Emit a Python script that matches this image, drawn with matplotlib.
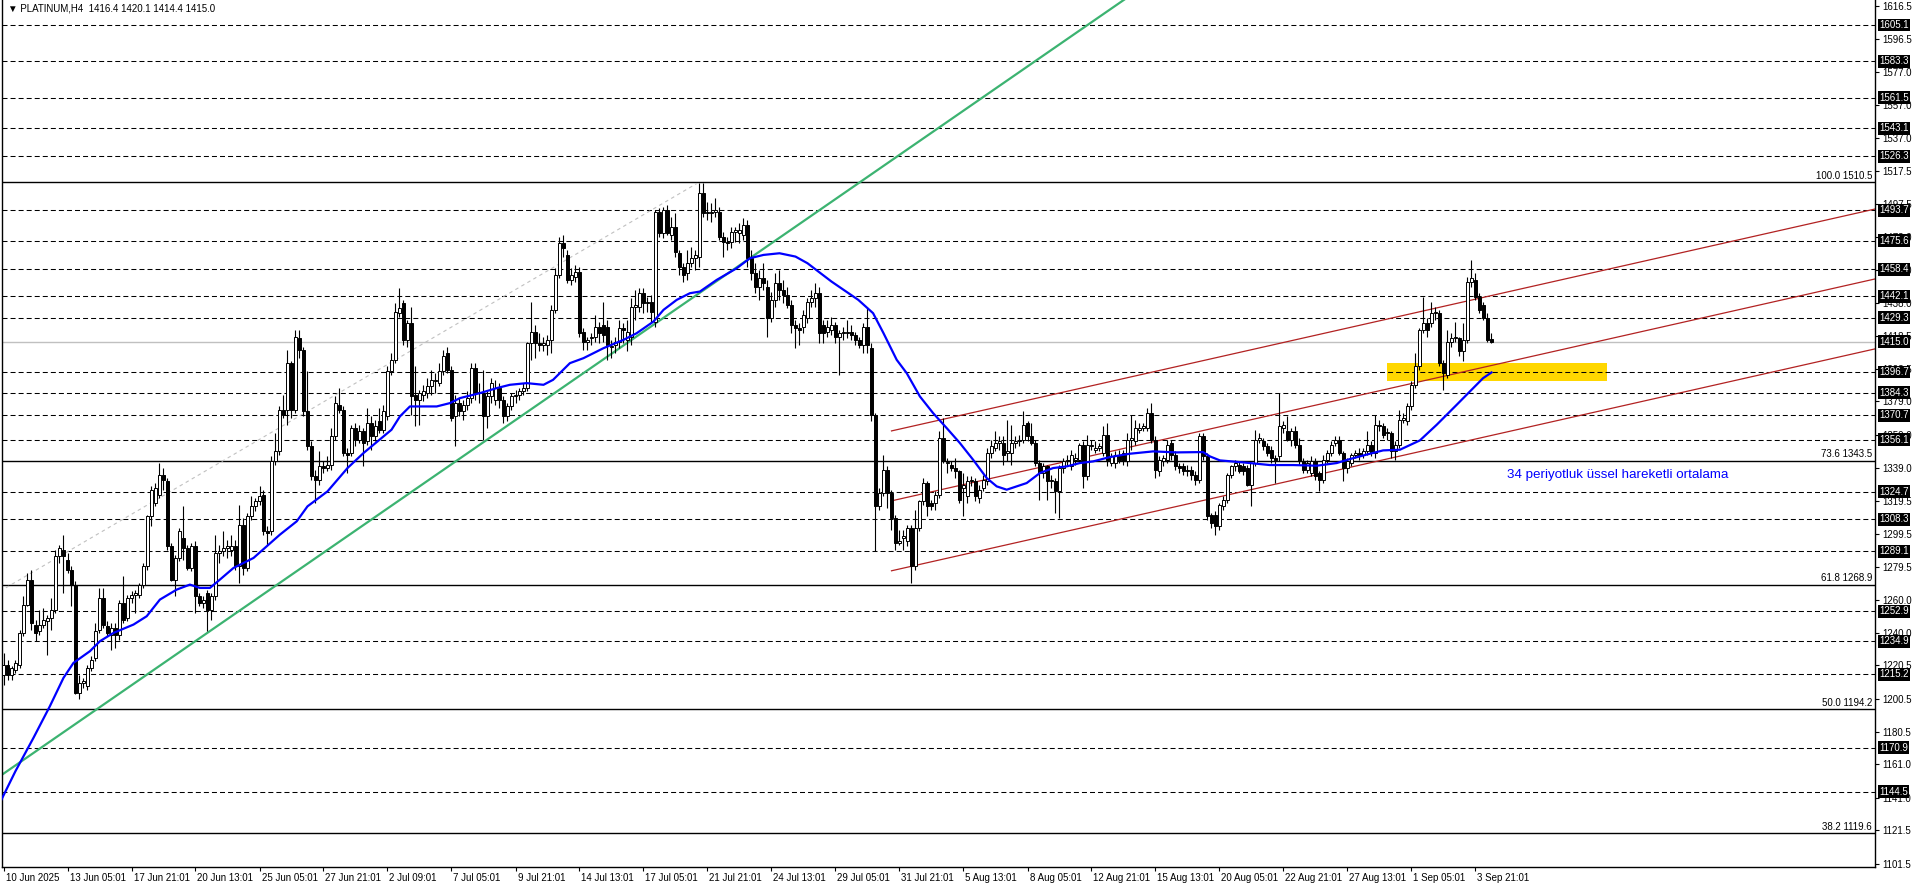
import matplotlib
matplotlib.use("Agg")
import matplotlib.pyplot as plt
import matplotlib.transforms as mtransforms
from matplotlib.patches import Rectangle
import numpy as np

plt.rcParams["font.family"] = ["Liberation Sans", "DejaVu Sans"]
plt.rcParams["lines.scale_dashes"] = False

title_text = "\u25bc PLATINUM,H4  1416.4 1420.1 1414.4 1415.0"

# H4 candles, 10 Jun 2025 -> 4 Sep 2025
opens = [
    1215, 1221, 1215, 1218, 1221, 1240, 1257, 1272, 1245, 1241,
    1245, 1247, 1249, 1254, 1286, 1290, 1284, 1278, 1269, 1204,
    1210, 1208, 1219, 1225, 1242, 1261, 1244, 1239, 1243, 1239,
    1258, 1249, 1261, 1263, 1263, 1269, 1280, 1310, 1318, 1323,
    1335, 1331, 1292, 1272, 1285, 1297, 1291, 1279, 1292, 1262,
    1258, 1264, 1254, 1262, 1288, 1289, 1291, 1290, 1292, 1280,
    1305, 1279, 1310, 1316, 1319, 1323, 1301, 1301, 1343, 1349,
    1374, 1374, 1402, 1374, 1417, 1410, 1373, 1352, 1334, 1332,
    1340, 1339, 1341, 1358, 1377, 1374, 1348, 1348, 1363, 1356,
    1361, 1355, 1366, 1358, 1367, 1362, 1370, 1397, 1404, 1432,
    1438, 1416, 1426, 1383, 1380, 1383, 1384, 1388, 1391, 1390,
    1397, 1408, 1398, 1370, 1378, 1373, 1377, 1381, 1399, 1384,
    1384, 1370, 1382, 1380, 1387, 1380, 1370, 1376, 1382, 1383,
    1385, 1387, 1414, 1421, 1414, 1413, 1413, 1416, 1434, 1455,
    1474, 1467, 1452, 1454, 1457, 1421, 1415, 1417, 1418, 1424,
    1425, 1424, 1412, 1413, 1415, 1423, 1416, 1418, 1436, 1436,
    1444, 1438, 1439, 1427, 1493, 1480, 1494, 1479, 1484, 1468,
    1460, 1456, 1462, 1465, 1466, 1504, 1492, 1492, 1493, 1493,
    1478, 1475, 1475, 1481, 1480, 1479, 1485, 1465, 1456, 1448,
    1453, 1448, 1429, 1440, 1450, 1446, 1443, 1437, 1425, 1423,
    1424, 1429, 1439, 1441, 1444, 1425, 1421, 1422, 1425, 1418,
    1420, 1420, 1421, 1419, 1416, 1413, 1424, 1411, 1371, 1316,
    1324, 1338, 1324, 1309, 1294, 1297, 1295, 1303, 1280, 1303,
    1319, 1330, 1318, 1318, 1323, 1357, 1342, 1341, 1339, 1337,
    1327, 1322, 1331, 1331, 1321, 1327, 1331, 1348, 1351, 1354,
    1354, 1348, 1348, 1354, 1355, 1356, 1366, 1358, 1354, 1342,
    1336, 1340, 1331, 1331, 1325, 1339, 1343, 1340, 1344, 1344,
    1353, 1334, 1352, 1350, 1351, 1348, 1359, 1342, 1342, 1347,
    1348, 1343, 1356, 1355, 1362, 1363, 1363, 1372, 1356, 1337,
    1343, 1344, 1354, 1347, 1340, 1340, 1338, 1338, 1335, 1332,
    1358, 1346, 1311, 1311, 1304, 1316, 1320, 1335, 1340, 1341,
    1340, 1339, 1329, 1342, 1356, 1355, 1352, 1350, 1345, 1346,
    1363, 1361, 1356, 1361, 1353, 1343, 1338, 1336, 1343, 1336,
    1332, 1344, 1348, 1354, 1356, 1348, 1339, 1342, 1347, 1348,
    1347, 1349, 1353, 1348, 1365, 1364, 1360, 1360, 1349, 1353,
    1368, 1367, 1376, 1389, 1400, 1422, 1426, 1426, 1432, 1432,
    1402, 1395, 1415, 1417, 1417, 1409, 1416, 1451, 1452, 1442,
    1437, 1429, 1416.4,
]
highs = [
    1228, 1224, 1220, 1224, 1242, 1262, 1276, 1278, 1248, 1254,
    1255, 1251, 1261, 1290, 1293, 1299, 1288, 1280, 1271, 1215,
    1213, 1221, 1226, 1246, 1267, 1267, 1247, 1246, 1246, 1260,
    1274, 1263, 1265, 1266, 1270, 1282, 1311, 1328, 1330, 1342,
    1339, 1333, 1294, 1287, 1303, 1316, 1293, 1294, 1295, 1264,
    1262, 1266, 1264, 1299, 1293, 1301, 1296, 1299, 1296, 1317,
    1309, 1312, 1322, 1321, 1328, 1326, 1304, 1346, 1360, 1376,
    1383, 1410, 1403, 1422, 1422, 1412, 1397, 1355, 1338, 1349,
    1343, 1346, 1363, 1382, 1387, 1376, 1351, 1365, 1366, 1365,
    1363, 1375, 1370, 1368, 1375, 1377, 1400, 1408, 1438, 1447,
    1440, 1428, 1436, 1400, 1386, 1389, 1393, 1398, 1396, 1402,
    1410, 1412, 1400, 1383, 1381, 1380, 1385, 1402, 1402, 1390,
    1398, 1385, 1393, 1392, 1390, 1382, 1378, 1384, 1386, 1387,
    1390, 1415, 1439, 1425, 1420, 1418, 1419, 1437, 1459, 1478,
    1479, 1470, 1459, 1461, 1460, 1423, 1418, 1420, 1431, 1427,
    1439, 1428, 1416, 1418, 1428, 1426, 1428, 1441, 1446, 1447,
    1447, 1442, 1443, 1494, 1495, 1496, 1497, 1490, 1492, 1470,
    1462, 1470, 1472, 1470, 1510, 1510, 1499, 1498, 1501, 1496,
    1481, 1478, 1484, 1484, 1486, 1489, 1488, 1470, 1462, 1458,
    1462, 1452, 1445, 1456, 1458, 1452, 1448, 1440, 1428, 1426,
    1434, 1441, 1446, 1450, 1448, 1428, 1428, 1430, 1427, 1422,
    1424, 1428, 1425, 1421, 1418, 1426, 1436, 1414, 1372, 1327,
    1347, 1340, 1326, 1311, 1302, 1302, 1305, 1305, 1314, 1320,
    1333, 1331, 1320, 1325, 1361, 1369, 1345, 1343, 1345, 1338,
    1336, 1334, 1334, 1333, 1329, 1335, 1351, 1356, 1361, 1358,
    1358, 1368, 1365, 1358, 1359, 1373, 1367, 1366, 1356, 1344,
    1342, 1341, 1335, 1333, 1341, 1345, 1347, 1350, 1348, 1354,
    1355, 1359, 1356, 1355, 1354, 1364, 1366, 1348, 1349, 1350,
    1350, 1360, 1371, 1368, 1366, 1366, 1375, 1378, 1358, 1346,
    1347, 1356, 1356, 1349, 1342, 1342, 1341, 1340, 1337, 1360,
    1360, 1348, 1312, 1313, 1318, 1322, 1336, 1341, 1344, 1343,
    1342, 1341, 1342, 1362, 1360, 1357, 1354, 1352, 1347, 1384,
    1367, 1370, 1363, 1364, 1357, 1345, 1344, 1346, 1345, 1337,
    1347, 1350, 1355, 1358, 1358, 1349, 1345, 1348, 1350, 1351,
    1351, 1361, 1355, 1371, 1368, 1366, 1363, 1361, 1355, 1374,
    1372, 1378, 1391, 1408, 1423, 1442, 1429, 1439, 1436, 1434,
    1404, 1422, 1420, 1427, 1418, 1426, 1454, 1464, 1456, 1444,
    1439, 1432, 1420.1,
]
lows = [
    1209, 1212, 1212, 1216, 1219, 1238, 1256, 1242, 1235, 1239,
    1243, 1227, 1242, 1252, 1282, 1264, 1276, 1256, 1203, 1200,
    1207, 1206, 1217, 1223, 1240, 1243, 1238, 1230, 1231, 1236,
    1246, 1247, 1258, 1252, 1261, 1267, 1278, 1304, 1316, 1321,
    1326, 1290, 1271, 1262, 1283, 1284, 1278, 1277, 1252, 1256,
    1255, 1241, 1248, 1260, 1282, 1286, 1285, 1286, 1278, 1270,
    1275, 1277, 1308, 1313, 1317, 1299, 1293, 1299, 1341, 1347,
    1369, 1365, 1369, 1372, 1405, 1370, 1350, 1332, 1318, 1329,
    1336, 1337, 1338, 1356, 1372, 1346, 1336, 1346, 1352, 1354,
    1340, 1353, 1350, 1355, 1360, 1360, 1368, 1395, 1402, 1430,
    1413, 1412, 1371, 1364, 1365, 1379, 1381, 1383, 1384, 1388,
    1395, 1396, 1367, 1352, 1370, 1368, 1374, 1378, 1380, 1378,
    1356, 1363, 1378, 1377, 1375, 1366, 1367, 1374, 1378, 1380,
    1383, 1385, 1404, 1405, 1409, 1409, 1407, 1408, 1432, 1453,
    1466, 1450, 1449, 1451, 1418, 1410, 1410, 1413, 1415, 1414,
    1415, 1404, 1405, 1408, 1411, 1414, 1409, 1413, 1428, 1433,
    1432, 1433, 1427, 1424, 1478, 1477, 1479, 1476, 1466, 1455,
    1451, 1452, 1460, 1458, 1460, 1490, 1488, 1487, 1490, 1476,
    1466, 1470, 1471, 1475, 1474, 1476, 1460, 1452, 1444, 1440,
    1446, 1418, 1427, 1436, 1440, 1438, 1435, 1420, 1411, 1413,
    1420, 1426, 1436, 1436, 1414, 1414, 1418, 1419, 1414, 1395,
    1416, 1417, 1416, 1413, 1411, 1408, 1408, 1367, 1289, 1314,
    1322, 1315, 1302, 1290, 1293, 1290, 1292, 1270, 1278, 1301,
    1317, 1310, 1314, 1314, 1321, 1342, 1336, 1337, 1333, 1318,
    1310, 1318, 1328, 1319, 1318, 1325, 1329, 1345, 1349, 1350,
    1341, 1343, 1341, 1351, 1352, 1354, 1355, 1353, 1340, 1320,
    1333, 1320, 1327, 1312, 1309, 1336, 1340, 1338, 1341, 1342,
    1327, 1332, 1350, 1348, 1349, 1346, 1340, 1340, 1339, 1342,
    1341, 1340, 1350, 1353, 1360, 1361, 1361, 1354, 1333, 1334,
    1340, 1342, 1344, 1338, 1336, 1335, 1334, 1332, 1329, 1330,
    1344, 1308, 1303, 1299, 1302, 1314, 1318, 1333, 1337, 1336,
    1335, 1328, 1316, 1340, 1354, 1350, 1346, 1342, 1330, 1343,
    1360, 1355, 1352, 1351, 1341, 1336, 1336, 1334, 1332, 1325,
    1330, 1342, 1346, 1352, 1347, 1331, 1336, 1340, 1345, 1344,
    1345, 1347, 1346, 1345, 1361, 1357, 1356, 1345, 1344, 1351,
    1366, 1365, 1374, 1387, 1398, 1420, 1418, 1424, 1428, 1400,
    1386, 1393, 1412, 1415, 1406, 1403, 1414, 1448, 1440, 1432,
    1428, 1415, 1414.4,
]
closes = [
    1221, 1215, 1219, 1222, 1240, 1257, 1272, 1246, 1240, 1245,
    1248, 1249, 1254, 1286, 1291, 1286, 1278, 1269, 1204, 1210,
    1211, 1219, 1224, 1241, 1261, 1245, 1240, 1243, 1239, 1258,
    1248, 1261, 1263, 1264, 1269, 1280, 1310, 1326, 1327, 1335,
    1332, 1292, 1272, 1285, 1301, 1291, 1279, 1292, 1262, 1258,
    1260, 1254, 1262, 1288, 1289, 1291, 1292, 1292, 1280, 1305,
    1279, 1310, 1316, 1319, 1322, 1301, 1300, 1343, 1349, 1374,
    1371, 1402, 1374, 1418, 1410, 1373, 1352, 1334, 1332, 1340,
    1339, 1341, 1358, 1378, 1374, 1348, 1347, 1363, 1356, 1361,
    1354, 1366, 1358, 1364, 1362, 1373, 1397, 1404, 1433, 1435,
    1416, 1426, 1382, 1380, 1384, 1385, 1388, 1392, 1392, 1397,
    1406, 1398, 1369, 1378, 1373, 1377, 1381, 1399, 1384, 1384,
    1370, 1382, 1390, 1387, 1380, 1370, 1376, 1382, 1383, 1385,
    1387, 1414, 1421, 1414, 1413, 1414, 1416, 1434, 1455, 1474,
    1471, 1452, 1455, 1457, 1420, 1415, 1416, 1418, 1424, 1420,
    1419, 1413, 1412, 1415, 1423, 1422, 1421, 1436, 1437, 1444,
    1438, 1439, 1433, 1493, 1480, 1494, 1480, 1484, 1469, 1460,
    1455, 1462, 1465, 1467, 1504, 1492, 1492.5, 1493, 1494, 1478,
    1475, 1474, 1481, 1482, 1482, 1485, 1465, 1456, 1448, 1453,
    1450, 1429, 1440, 1450, 1446, 1443, 1437, 1425, 1423, 1422,
    1431, 1439, 1441, 1444, 1420, 1420, 1424, 1425, 1418, 1420,
    1421, 1421, 1419, 1416, 1413, 1424, 1413, 1371, 1316, 1324,
    1338, 1324, 1309, 1294, 1295, 1298, 1303, 1280, 1303, 1319,
    1330, 1316, 1316, 1323, 1357, 1343, 1342, 1339, 1337, 1320,
    1329, 1331, 1332, 1322, 1326, 1332, 1348, 1352, 1354, 1355,
    1347, 1349, 1354, 1355, 1356, 1365, 1358, 1354, 1342, 1336,
    1340, 1331, 1332, 1325, 1339, 1343, 1344, 1347, 1345, 1353,
    1334, 1353, 1353, 1351, 1352, 1359, 1344, 1346, 1347, 1344,
    1343, 1356, 1357, 1363, 1363, 1364, 1372, 1356, 1338, 1344,
    1345, 1353, 1347, 1340, 1339, 1337, 1337, 1335, 1332, 1358,
    1346, 1310, 1306, 1304, 1317, 1320, 1335, 1340, 1342, 1337,
    1337, 1329, 1342, 1356, 1357, 1352, 1348, 1345, 1344, 1364,
    1365, 1356, 1361, 1353, 1343, 1338, 1342, 1343, 1334, 1332,
    1344, 1348, 1353, 1356, 1348, 1339, 1343, 1347, 1348, 1346,
    1349, 1353, 1348, 1365, 1364, 1359, 1360, 1349, 1353, 1368,
    1369, 1376, 1389, 1400, 1422, 1426, 1422, 1432, 1433, 1402,
    1396, 1415, 1417, 1418, 1409, 1416, 1451, 1453, 1442, 1434,
    1429, 1416, 1415.0,
]

# 34-period EMA as drawn on the chart: (bar index, price)
ema_x = [-0.9, 3, 7.5, 11.6, 15, 17.5, 21.6, 24.1, 27.5, 32.5,
         35.8, 39.1, 43.3, 46.6, 49.1, 51.6, 54.1, 57.5, 62.5, 65.8,
         69.1, 73.3, 76, 81, 86, 90, 94, 97, 99.1, 101.6,
         105, 108.3, 111.6, 114.1, 119.1, 123.3, 126.6, 130.8, 135, 137.4,
         141.6, 145, 150, 155, 158.3, 162.5, 165, 168.3, 171.6, 174.1,
         178.3, 183.3, 186.6, 190, 194, 198, 201, 207, 213.7, 217.4,
         220, 223.3, 225.8, 229.1, 232.4, 235.8, 239.1, 242.4, 245.8, 248.3,
         250.8, 253.3, 255.8, 259.1, 262.4, 265.8, 269.1, 272.4, 276.6, 281.6,
         287.4, 293.3, 299.9, 301.6, 304.1, 309.9, 316.6, 322.4, 328.3, 333.3,
         336.6, 341.6, 344.9, 349.1, 354.1, 358.3, 363.3, 366.6, 369.9, 372]
ema_y = [1138, 1157, 1177, 1196, 1213, 1222, 1229, 1235, 1240, 1245,
         1250, 1260, 1266, 1269, 1267, 1267, 1272, 1279, 1285, 1292,
         1299, 1307, 1316, 1325, 1339, 1348, 1356, 1362, 1370, 1376,
         1376, 1376, 1378, 1381, 1384, 1387, 1389, 1390, 1389, 1392,
         1402, 1405, 1411, 1416, 1420, 1427, 1434, 1440, 1444, 1445,
         1452, 1459, 1465, 1467, 1468, 1466, 1462, 1451, 1440, 1432,
         1420, 1404, 1396, 1382, 1372, 1363, 1354, 1344, 1333, 1328,
         1326, 1328, 1330, 1336, 1339, 1340, 1342, 1343, 1345.6, 1347.6,
         1349, 1348.4, 1348.6, 1346, 1343.6, 1342.4, 1340.8, 1340.8, 1340.4, 1342,
         1344.4, 1347.6, 1349.6, 1350, 1355.6, 1365, 1377, 1385, 1393, 1396.4]

date_labels = [
    "10 Jun 2025", "13 Jun 05:01", "17 Jun 21:01", "20 Jun 13:01",
    "25 Jun 05:01", "27 Jun 21:01", "2 Jul 09:01", "7 Jul 05:01",
    "9 Jul 21:01", "14 Jul 13:01", "17 Jul 05:01", "21 Jul 21:01",
    "24 Jul 13:01", "29 Jul 05:01", "31 Jul 21:01", "5 Aug 13:01",
    "8 Aug 05:01", "12 Aug 21:01", "15 Aug 13:01", "20 Aug 05:01",
    "22 Aug 21:01", "27 Aug 13:01", "1 Sep 05:01", "3 Sep 21:01",
]
bars_per_label = 16

axis_ticks = [1616.5, 1596.5, 1577.0, 1557.0, 1537.0, 1517.5, 1497.5, 1478.0,
              1458.0, 1438.0, 1418.5, 1398.5, 1379.0, 1359.0, 1339.0, 1319.5,
              1299.5, 1279.5, 1260.0, 1240.0, 1220.5, 1200.5, 1180.5, 1161.0,
              1141.0, 1121.5, 1101.5]
level_prices = [1605.1, 1583.3, 1561.5, 1543.1, 1526.3, 1493.7, 1475.6, 1458.4,
                1442.1, 1429.3, 1396.7, 1384.3, 1370.7, 1356.1, 1324.7, 1308.3,
                1289.1, 1252.9, 1234.9, 1215.2, 1170.9, 1144.5]
last_price = 1415.0
fib_prices = [1510.5, 1343.5, 1268.9, 1194.2, 1119.6]
fib_names = ["100.0", "73.6", "61.8", "50.0", "38.2"]

# trend objects: (bar index, price) end points
green_x, green_y = [-1, 290], [1153.8, 1636.6]
grey_x, grey_y = [-0.9, 173.4], [1265.0, 1510.0]
channel_x = [222.0, 470.0]
channel_tops = [1361.3, 1319.3, 1277.3]
channel_slope = 0.542
zone_x, zone_y = (345.8, 400.8), (1391.0, 1402.0)
ema_note = "34 periyotluk üssel hareketli ortalama"
ema_note_pos = (375.9, 1334.8)

W, H = 1916, 888
fig = plt.figure(figsize=(W / 100, H / 100), dpi=100)
ax = fig.add_axes([2 / W, 21 / H, 1873 / W, 867 / H])
ax.set_xlim(-0.375, 467.875)
ax.set_ylim(1099.4, 1620.1)

o = np.array(opens, float)
h = np.array(highs, float)
l = np.array(lows, float)
c = np.array(closes, float)
idx = np.arange(len(c))

# yellow support zone (behind everything)
ax.add_patch(Rectangle((zone_x[0], zone_y[0]), zone_x[1] - zone_x[0],
                       zone_y[1] - zone_y[0], facecolor="#FFD700",
                       edgecolor="none", zorder=0))

for p in level_prices:
    ax.axhline(p, color="black", lw=0.75, dashes=(3.6, 2.2), zorder=1)
for p in fib_prices:
    ax.axhline(p, color="black", lw=1.0, zorder=1)
ax.axhline(last_price, color="#C0C0C0", lw=1.0, zorder=1)

ax.plot(grey_x, grey_y, color="#C0C0C0", lw=0.8, dashes=(2.5, 2.5), zorder=1)
ax.plot(green_x, green_y, color="#3CB371", lw=1.6, zorder=2)
for top in channel_tops:
    ax.plot(channel_x, [top, top + channel_slope * (channel_x[1] - channel_x[0])],
            color="#B22222", lw=0.9, zorder=2)

# candles
ax.vlines(idx, l, h, color="black", lw=0.8, zorder=3)
up = c >= o
body_lo = np.minimum(o, c)
body_h = np.maximum(np.abs(c - o), 0.4)
ax.bar(idx[up], body_h[up], bottom=body_lo[up], width=0.6, color="white",
       edgecolor="black", lw=0.7, zorder=4)
ax.bar(idx[~up], body_h[~up], bottom=body_lo[~up], width=0.6, color="black",
       edgecolor="black", lw=0.7, zorder=4)

ax.plot(ema_x, ema_y, color="#0000FF", lw=1.6, zorder=5,
        solid_joinstyle="round")

ax.text(ema_note_pos[0], ema_note_pos[1], ema_note, color="#0000FF",
        fontsize=9.6, va="center", ha="left", zorder=6)

# fibonacci labels
for p, name in zip(fib_prices, fib_names):
    ax.text(467.1, p + 0.8, f"{name} {p:.1f}", fontsize=7, ha="right",
            va="bottom", zorder=6)

ax.text(1.0, 1615.0, title_text, fontsize=7, ha="left", va="center", zorder=6)

# axes styling
ax.spines["top"].set_visible(False)
for side in ["left", "right", "bottom"]:
    ax.spines[side].set_linewidth(1.0)

ax.yaxis.tick_right()
ax.set_yticks(axis_ticks)
ax.set_yticklabels([f"{t:.1f}" for t in axis_ticks])
ax.tick_params(axis="y", direction="out", length=3, width=0.8, pad=2, labelsize=7)

ax.set_xticks(np.arange(len(date_labels)) * bars_per_label)
ax.set_xticklabels(date_labels)
ax.tick_params(axis="x", direction="out", length=3, width=0.8, pad=1, labelsize=7)
shift = mtransforms.ScaledTranslation(2 / 100, 0, fig.dpi_scale_trans)
for lab in ax.get_xticklabels():
    lab.set_horizontalalignment("left")
    lab.set_transform(lab.get_transform() + shift)

# black price boxes on the price scale
box_tr = mtransforms.blended_transform_factory(ax.transAxes, ax.transData)
for p in level_prices + [last_price]:
    ax.text(1.0 + 4 / 1873, p, f"{p:.1f}", transform=box_tr, fontsize=7,
            color="white", ha="left", va="center", clip_on=False, zorder=10,
            bbox=dict(boxstyle="square,pad=0.15", fc="black", ec="none"))

fig.savefig("out.png", dpi=100)
